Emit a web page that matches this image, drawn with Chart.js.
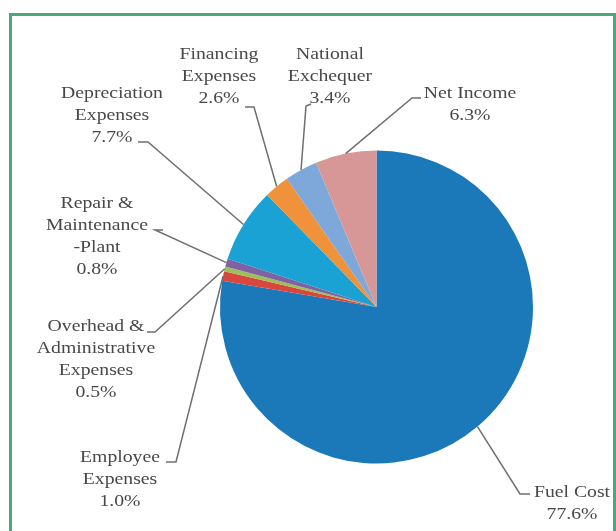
<!DOCTYPE html>
<html>
<head>
<meta charset="utf-8">
<script src="https://cdn.jsdelivr.net/npm/chart.js@4/dist/chart.umd.min.js"></script>
<style>
  html, body { margin: 0; padding: 0; background: #ffffff; }
  #wrap { position: relative; width: 616px; height: 531px; }
</style>
</head>
<body>
<div id="wrap"><canvas id="c" width="616" height="531"></canvas></div>
<script>
// ---- data ----
const categories = [
  ['Fuel Cost'],
  ['Employee', 'Expenses'],
  ['Overhead &', 'Administrative', 'Expenses'],
  ['Repair &', 'Maintenance', '-Plant'],
  ['Depreciation', 'Expenses'],
  ['Financing', 'Expenses'],
  ['National', 'Exchequer'],
  ['Net Income']
];
const shares = [77.6, 1.0, 0.5, 0.8, 7.7, 2.6, 3.4, 6.3];
const sliceColors = ['#1b79b9', '#d8463d', '#9cbf5a', '#7f62a4', '#1aa2d4', '#f0923a', '#7fa8da', '#d79797'];

// ---- label layout (text centre x, first line y, elbow and tick points) ----
const labelLayout = [
  { cx: 572, y: 493, elbow: [520, 494], tick: [530, 494] },
  { cx: 120, y: 458, elbow: [176, 462], tick: [166, 462] },
  { cx: 96,  y: 327, elbow: [155, 332], tick: [147, 332] },
  { cx: 97,  y: 204, elbow: [155, 230], tick: [163, 230] },
  { cx: 112, y: 94,  elbow: [148, 142], tick: [138, 142] },
  { cx: 219, y: 55,  elbow: [254, 107], tick: [245, 107] },
  { cx: 330, y: 55,  elbow: [306, 106], tick: [311, 104] },
  { cx: 470, y: 94,  elbow: [412, 98],  tick: [421, 98] }
];
const lineH = 22;

const labelPlugin = {
  id: 'leaderLabels',
  beforeDraw(chart) {
    const ctx = chart.ctx;
    ctx.save();
    ctx.fillStyle = '#ffffff';
    ctx.fillRect(0, 0, chart.width, chart.height);
    ctx.strokeStyle = '#4aa97a';
    ctx.lineWidth = 3;
    ctx.strokeRect(10.5, 14.5, 604, 540);
    ctx.restore();
  },
  afterDraw(chart) {
    const ctx = chart.ctx;
    const meta = chart.getDatasetMeta(0);
    ctx.save();
    meta.data.forEach((arc, i) => {
      const p = arc.getProps(['x', 'y', 'startAngle', 'endAngle', 'outerRadius'], true);
      const mid = (p.startAngle + p.endAngle) / 2;
      const px = p.x + Math.cos(mid) * p.outerRadius;
      const py = p.y + Math.sin(mid) * p.outerRadius;
      const L = labelLayout[i];
      ctx.strokeStyle = '#6f6f6f';
      ctx.lineWidth = 1.5;
      ctx.beginPath();
      ctx.moveTo(px, py);
      ctx.lineTo(L.elbow[0], L.elbow[1]);
      ctx.lineTo(L.tick[0], L.tick[1]);
      ctx.stroke();
      const lines = categories[i].concat([shares[i].toFixed(1) + '%']);
      ctx.fillStyle = '#484848';
      ctx.font = '17px "Liberation Serif", "DejaVu Serif", serif';
      ctx.textAlign = 'center';
      ctx.textBaseline = 'middle';
      lines.forEach((t, k) => {
        ctx.save();
        ctx.translate(L.cx, L.y + k * lineH);
        ctx.scale(1.16, 1);
        ctx.fillText(t, 0, 0);
        ctx.restore();
      });
    });
    ctx.restore();
  }
};

new Chart(document.getElementById('c'), {
  type: 'pie',
  data: {
    labels: categories,
    datasets: [{
      data: shares,
      backgroundColor: sliceColors,
      borderWidth: 0
    }]
  },
  options: {
    responsive: false,
    animation: false,
    layout: { padding: { left: 220, right: 83, top: 150, bottom: 67 } },
    plugins: { legend: { display: false }, tooltip: { enabled: false } }
  },
  plugins: [labelPlugin]
});
</script>
</body>
</html>
